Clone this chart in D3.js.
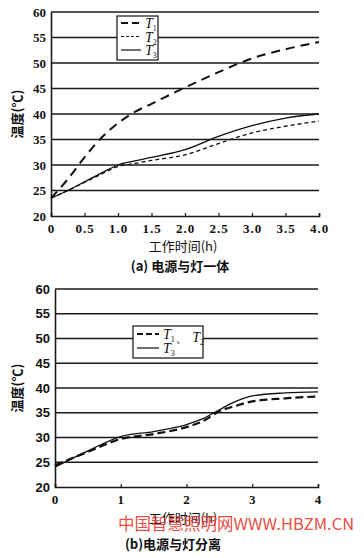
<!DOCTYPE html>
<html>
<head>
<meta charset="utf-8">
<script src="https://cdn.jsdelivr.net/npm/d3@7"></script>
<style>
  body { margin: 0; background: #fff; }
  svg { display: block; }
</style>
</head>
<body>
<div id="chart"></div>
<script>
// chart (a): power supply and lamp in one body
const hoursA = [0, 0.25, 0.5, 0.75, 1.0, 1.25, 1.5, 2.0, 2.5, 3.0, 3.5, 4.0];
const t1A = [23.5, 27.2, 31.5, 35.3, 38.2, 40.4, 42.0, 45.2, 48.2, 50.9, 52.7, 54.1];
const t2A = [23.5, 25.0, 26.6, 28.2, 29.7, 30.3, 30.9, 32.0, 34.2, 36.3, 37.6, 38.6];
const t3A = [23.5, 25.0, 26.7, 28.4, 30.0, 30.8, 31.5, 33.0, 35.6, 37.7, 39.2, 40.0];
const xTicksA = [0, 0.5, 1.0, 1.5, 2.0, 2.5, 3.0, 3.5, 4.0];

// chart (b): power supply separated from lamp
const hoursB = [0, 0.5, 1.0, 1.5, 2.0, 2.25, 2.5, 2.75, 3.0, 3.5, 4.0];
const t12B = [24.4, 27.1, 29.7, 30.7, 32.1, 33.3, 35.3, 36.4, 37.3, 37.9, 38.3];
const t3B = [24.0, 27.3, 30.2, 31.2, 32.6, 33.8, 35.6, 37.3, 38.4, 39.0, 39.2];
const xTicksB = [0, 1, 2, 3, 4];

const yTicks = [20, 25, 30, 35, 40, 45, 50, 55, 60];

const width = 364;
const height = 558;

const svg = d3.select("#chart")
  .append("svg")
  .attr("width", width)
  .attr("height", height);

//draw one panel
function panel(cfg) {
  const x = d3.scaleLinear().domain([0, 4]).range([cfg.left, cfg.right]);
  const y = d3.scaleLinear().domain([20, 60]).range([cfg.bottom, cfg.top]);
  const g = svg.append("g");

  // horizontal grid lines
  g.selectAll(".grid")
    .data(yTicks.filter(d => d > 20))
    .enter()
    .append("line")
    .attr("x1", cfg.left)
    .attr("x2", cfg.right)
    .attr("y1", d => y(d))
    .attr("y2", d => y(d))
    .attr("stroke", "#1a1a1a")
    .attr("stroke-width", 1.6);

  // y axis
  const yAxis = g.append("g")
    .attr("transform", `translate(${cfg.left},0)`)
    .call(d3.axisLeft(y).tickValues(yTicks).tickSize(0).tickPadding(5));
  yAxis.select(".domain").attr("stroke", "#1a1a1a").attr("stroke-width", 1.6);
  yAxis.selectAll("text")
    .attr("font-family", cfg.yFont)
    .attr("font-weight", "bold")
    .attr("font-size", "13px")
    .attr("fill", "#111");

  // x axis
  const xAxis = g.append("g")
    .attr("transform", `translate(0,${cfg.bottom})`)
    .call(d3.axisBottom(x).tickValues(cfg.xTicks).tickSize(-3).tickPadding(8)
      .tickFormat(cfg.xFormat));
  xAxis.select(".domain").attr("stroke", "#1a1a1a").attr("stroke-width", 1.6);
  xAxis.selectAll(".tick line").attr("stroke", "#1a1a1a").attr("stroke-width", 1.2);
  xAxis.selectAll("text")
    .attr("font-family", "Liberation Serif")
    .attr("font-weight", "bold")
    .attr("font-size", "13px")
    .attr("letter-spacing", "1px")
    .attr("fill", "#111");

  // series lines
  const line = d3.line()
    .x((d, i) => x(cfg.hours[i]))
    .y(d => y(d))
    .curve(d3.curveMonotoneX);

  cfg.series.forEach(s => {
    g.append("path")
      .datum(s.values)
      .attr("d", line)
      .attr("fill", "none")
      .attr("stroke", "#111")
      .attr("stroke-width", s.width)
      .attr("stroke-dasharray", s.dash);
  });

  // y title
  g.append("text")
    .attr("transform", `translate(${cfg.yTitleX},${(cfg.top + cfg.bottom) / 2}) rotate(-90)`)
    .attr("text-anchor", "middle")
    .attr("font-family", "Noto Sans CJK SC")
    .attr("font-weight", "bold")
    .attr("font-size", "13px")
    .attr("fill", "#111")
    .text("温度(℃)");

  // x title
  g.append("text")
    .attr("x", cfg.xTitleX)
    .attr("y", cfg.xTitleY)
    .attr("text-anchor", "middle")
    .attr("font-family", "Noto Sans CJK SC")
    .attr("font-size", "13px")
    .attr("fill", "#111")
    .text("工作时间(h)");

  // caption
  g.append("text")
    .attr("x", cfg.capX)
    .attr("y", cfg.capY)
    .attr("text-anchor", "middle")
    .attr("font-family", "Noto Sans CJK SC")
    .attr("font-weight", "bold")
    .attr("font-size", "13px")
    .attr("fill", "#111")
    .text(cfg.caption);

  // legend
  const lg = g.append("g").attr("transform", `translate(${cfg.legend.x},${cfg.legend.y})`);
  lg.append("rect")
    .attr("width", cfg.legend.w)
    .attr("height", cfg.legend.h)
    .attr("fill", "#fff")
    .attr("stroke", "#111")
    .attr("stroke-width", 1.2);
  cfg.legend.items.forEach((it, i) => {
    const yy = cfg.legend.first + i * cfg.legend.step;
    lg.append("line")
      .attr("x1", 4).attr("x2", 4 + cfg.legend.lineW)
      .attr("y1", yy).attr("y2", yy)
      .attr("stroke", "#111")
      .attr("stroke-width", it.width)
      .attr("stroke-dasharray", it.dash);
    const t = lg.append("text")
      .attr("x", cfg.legend.lineW + 8)
      .attr("y", yy + 5)
      .attr("font-family", "Liberation Serif")
      .attr("font-size", "14px")
      .attr("fill", "#111");
    it.labels.forEach((lab, k) => {
      if (k > 0) t.append("tspan").attr("font-style", "normal").text("、 ");
      t.append("tspan").attr("font-style", "italic").text("T");
      t.append("tspan").attr("font-size", "8px").attr("dy", 3).text(lab);
      t.append("tspan").attr("dy", -3).text("");
    });
  });
}

panel({
  left: 51, right: 319, top: 12, bottom: 216,
  hours: hoursA, xTicks: xTicksA, xFormat: d => d === 0 ? "0" : d3.format(".1f")(d),
  yFont: "Liberation Serif",
  series: [
    { values: t1A, width: 2, dash: "9,6" },
    { values: t2A, width: 1.3, dash: "4,3" },
    { values: t3A, width: 1.3, dash: null }
  ],
  yTitleX: 22, xTitleX: 183, xTitleY: 251, capX: 180, capY: 271,
  caption: "(a) 电源与灯一体",
  legend: {
    x: 117, y: 16, w: 41, h: 44, first: 7, step: 13.5, lineW: 20,
    items: [
      { labels: ["1"], width: 2, dash: "7,4" },
      { labels: ["2"], width: 1.2, dash: "3,2" },
      { labels: ["3"], width: 1.2, dash: null }
    ]
  }
});

panel({
  left: 55, right: 318, top: 289, bottom: 487,
  hours: hoursB, xTicks: xTicksB, xFormat: d3.format("d"),
  yFont: "Liberation Sans",
  series: [
    { values: t12B, width: 2.2, dash: "8,4" },
    { values: t3B, width: 1.3, dash: null }
  ],
  yTitleX: 22, xTitleX: 183, xTitleY: 523, capX: 173, capY: 549,
  caption: "(b)电源与灯分离",
  legend: {
    x: 133, y: 326, w: 70, h: 32, first: 8, step: 14, lineW: 22,
    items: [
      { labels: ["1", "2"], width: 2, dash: "6,3" },
      { labels: ["3"], width: 1.2, dash: null }
    ]
  }
});

// watermark
svg.append("text")
  .attr("x", 118)
  .attr("y", 530)
  .attr("font-family", "Noto Sans CJK SC")
  .attr("font-size", "16.5px")
  .attr("fill", "#e8332b")
  .attr("fill-opacity", 0.9)
  .text("中国智慧照明网WWW.HBZM.CN");
</script>
</body>
</html>
